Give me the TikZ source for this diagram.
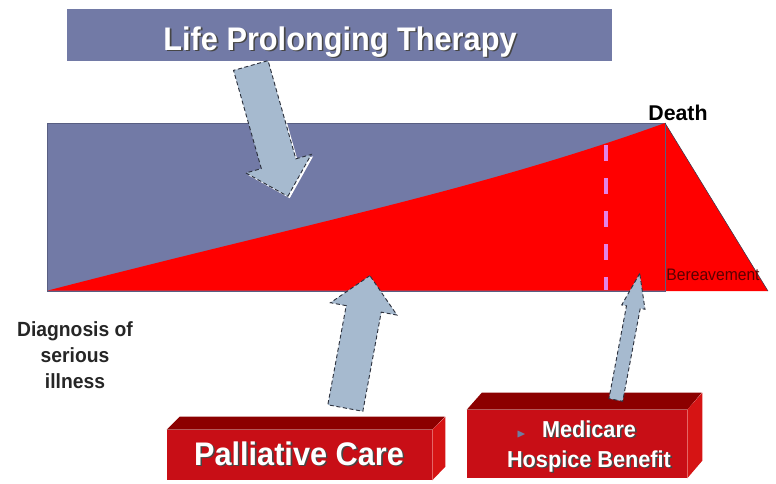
\documentclass[tikz,border=0pt]{standalone}
\usepackage{amssymb}
\usepackage{fontspec}
\setmainfont{Liberation Sans}
\newfontfamily\slidefont[FakeStretch=0.94]{Liberation Sans}
\usetikzlibrary{positioning,shapes.arrows,shadows}

\definecolor{bandblue}{RGB}{114,122,166}
\definecolor{rimblue}{RGB}{88,94,130}
\definecolor{arrowblue}{RGB}{166,186,207}
\definecolor{arrowrim}{RGB}{45,50,62}
\definecolor{careRed}{RGB}{255,0,0}
\definecolor{boxFront}{RGB}{200,14,22}
\definecolor{boxTop}{RGB}{140,0,0}
\definecolor{boxSide}{RGB}{214,20,20}
\definecolor{hospicePink}{RGB}{228,130,230}
\definecolor{bereaveRed}{RGB}{90,0,0}
\definecolor{txtShadow}{RGB}{70,70,70}
\definecolor{bulletBlue}{RGB}{110,125,160}

\newcommand{\shadowed}[1]{\rlap{\hspace{1.2pt}\raisebox{-1.2pt}{\textcolor{txtShadow}{#1}}}#1}

\begin{document}
\begin{tikzpicture}[x=0.75pt,y=-0.75pt,
  bigarrow/.style={single arrow, draw=arrowrim, densely dashed, line width=0.7pt, fill=arrowblue, inner xsep=0pt, single arrow head indent=0pt},
  boxtext/.style={inner sep=0pt, text=white, font=\slidefont\bfseries},
  redbox/.style={rectangle, fill=boxFront, inner sep=0pt}]
\useasboundingbox (0,0) rectangle (776,483);

% banner
\node[fill=bandblue, minimum width=408.75pt, minimum height=38.5pt, inner sep=0pt] (ltp) at (339.5,35) {};
\node[boxtext, font=\slidefont\bfseries\fontsize{24.5}{29}\selectfont, anchor=base] (ltpText) at (340,50) {\shadowed{Life Prolonging Therapy}};

% time line
\coordinate (diag) at (48,290.5);
\coordinate (death) at (665,123);
\coordinate (end) at (665,291);
\draw[fill=bandblue, draw=rimblue] (47,123) rectangle (end);
\fill[careRed] (diag) .. controls (300,225) and (480,190) .. (death) -- (665,290.5) -- cycle;
\fill[careRed] (death) -- (768,291) -- (end) -- cycle;
\draw[rimblue] (death) -- (end);
\draw[rimblue!60!black] (death) -- (768,291);
\draw[hospicePink, line width=2.4pt, dash pattern=on 12pt off 12.75pt] (606,145) -- (606,290);

\node[font=\bfseries\fontsize{16}{19}\selectfont, anchor=base, inner sep=0pt] (deathLabel) at (678,120) {Death};
\node[font=\slidefont\fontsize{12.5}{15}\selectfont, text=bereaveRed, anchor=base, inner sep=0pt] (bereaveLabel) at (713,280) {Bereavement};
\node[font=\slidefont\bfseries\fontsize{15.4}{19.3}\selectfont, text=black!85, align=center, inner sep=0pt] (diagLabel) at (75,355) {Diagnosis of\\serious\\illness};

% boxes
\node[redbox, minimum width=198.75pt, minimum height=37.5pt] (pc) at (299.5,455) {};
\fill[boxTop] (pc.north west) -- ++(13,-13) -- ++(265,0) -- (pc.north east) -- cycle;
\fill[boxSide] (pc.north east) -- ++(13,-13) -- ++(0,50) -- (pc.south east) -- cycle;
\node[boxtext, font=\slidefont\bfseries\fontsize{24.5}{29}\selectfont, anchor=base] (pcText) at (299,465) {\shadowed{Palliative Care}};

\node[redbox, minimum width=165pt, minimum height=51pt] (mhb) at (577,444) {};
\fill[boxTop] (mhb.north west) -- ++(15,-17) -- ++(220,0) -- (mhb.north east) -- cycle;
\fill[boxSide] (mhb.north east) -- ++(15,-17) -- ++(0,68) -- (mhb.south east) -- cycle;
\node[boxtext, font=\slidefont\bfseries\fontsize{17.3}{22.3}\selectfont, align=center] (mhbText) at (589,447) {\llap{\textcolor{bulletBlue}{\small$\blacktriangleright$}\hspace{12pt}}\shadowed{Medicare}\\\shadowed{Hospice Benefit}};

% arrows
\node[bigarrow, drop shadow={shadow xshift=1.4pt, shadow yshift=-1.4pt, fill=white, opacity=1}, inner ysep=13.1pt, minimum height=102pt, single arrow head extend=12pt, rotate=-74.2, anchor=tip] (ltpArrow) at (288,197) {};
\node[bigarrow, inner ysep=13pt, minimum height=101pt, single arrow head extend=12pt, rotate=79.5, anchor=tip] (pcArrow) at (370,275) {};
\node[bigarrow, inner ysep=4.9pt, minimum height=96.6pt, single arrow head extend=3.6pt, single arrow tip angle=38, rotate=79.3, anchor=tip] (mhbArrow) at (640,272) {};
\end{tikzpicture}
\end{document}
